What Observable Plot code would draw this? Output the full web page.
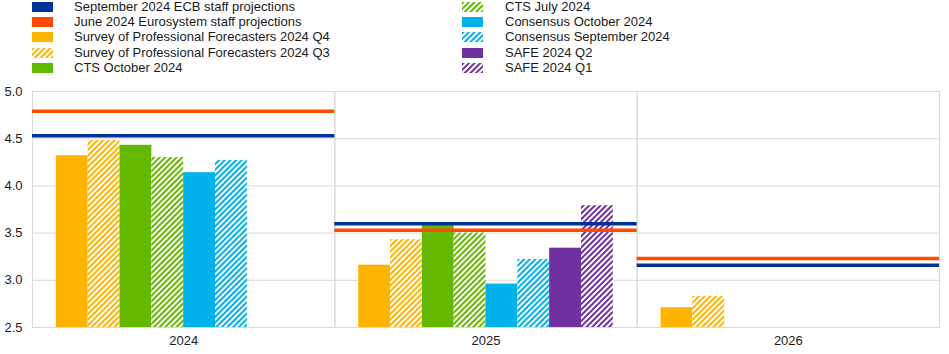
<!DOCTYPE html>
<html><head><meta charset="utf-8">
<script src="https://cdn.jsdelivr.net/npm/d3@7"></script>
<script src="https://cdn.jsdelivr.net/npm/@observablehq/plot@0.6"></script>
<style>
body{margin:0;background:#fff;font-family:Arial,"Liberation Sans",sans-serif;}
#legend{position:relative;height:78px;width:949px;}
.item{position:absolute;height:14px;font-size:13px;color:#1a1a1a;white-space:nowrap;}
.item svg{position:absolute;left:0;top:2px;}
.item span{position:absolute;top:-1px;line-height:15px;}
</style>
</head><body>
<svg width="0" height="0" style="position:absolute">
<defs id="defs"></defs>
</svg>
<div id="legend"></div>
<div id="chart"></div>
<script>
const years = ["2024", "2025", "2026"];
const barSeries = [
  "Survey of Professional Forecasters 2024 Q4",
  "Survey of Professional Forecasters 2024 Q3",
  "CTS October 2024",
  "CTS July 2024",
  "Consensus October 2024",
  "Consensus September 2024",
  "SAFE 2024 Q2",
  "SAFE 2024 Q1"
];
const spfQ4 = [4.32, 3.16, 2.71];
const spfQ3 = [4.48, 3.43, 2.83];
const ctsOct = [4.43, 3.60, null];
const ctsJul = [4.30, 3.50, null];
const consOct = [4.14, 2.96, null];
const consSep = [4.27, 3.22, null];
const safeQ2 = [null, 3.34, null];
const safeQ1 = [null, 3.79, null];
const lineSeries = ["September 2024 ECB staff projections", "June 2024 Eurosystem staff projections"];
const projSep = [4.53, 3.60, 3.16];
const projJun = [4.79, 3.53, 3.23];
const yTicks = [2.5, 3.0, 3.5, 4.0, 4.5, 5.0];

const barValues = [spfQ4, spfQ3, ctsOct, ctsJul, consOct, consSep, safeQ2, safeQ1];
const lineValues = [projSep, projJun];

const palette = {yellow: "#ffb400", green: "#65b800", cyan: "#00b1ea", purple: "#7030a0", blue: "#003299", orange: "#ff4b00"};
const barColor = ["yellow", "yellow", "green", "green", "cyan", "cyan", "purple", "purple"];
const barHatched = [false, true, false, true, false, true, false, true];
const lineColor = ["blue", "orange"];

// hatch patterns
const defs = document.getElementById("defs");
for (const [name, c] of Object.entries(palette)) {
  defs.insertAdjacentHTML("beforeend",
    `<pattern id="h-${name}" patternUnits="userSpaceOnUse" width="4" height="4" patternTransform="rotate(45)">
       <rect width="4" height="4" fill="#fff"/><rect width="2" height="4" fill="${c}"/></pattern>`);
}
const fillOf = i => barHatched[i] ? `url(#h-${barColor[i]})` : palette[barColor[i]];

// data tables
const bars = [];
barSeries.forEach((s, i) => years.forEach((y, j) => {
  if (barValues[i][j] != null) bars.push({series: s, year: y, value: barValues[i][j], fill: fillOf(i)});
}));
const lines = [];
lineSeries.forEach((s, i) => years.forEach((y, j) => {
  lines.push({series: s, year: y, value: lineValues[i][j], stroke: palette[lineColor[i]]});
}));

// legend
const legend = document.getElementById("legend");
const legendItems = [
  ...lineSeries.map((s, i) => ({label: s, fill: palette[lineColor[i]]})),
  ...barSeries.map((s, i) => ({label: s, fill: fillOf(i)}))
];
legendItems.forEach((it, k) => {
  const col = k < 5 ? 0 : 1;
  const row = k % 5;
  const sx = col === 0 ? 32 : 462;
  const tx = col === 0 ? 74 : 505;
  const top = row * 15.2;
  const d = document.createElement("div");
  d.className = "item";
  d.style.left = sx + "px";
  d.style.top = top + "px";
  d.innerHTML = `<svg width="21" height="10"><rect width="21" height="10" fill="${it.fill}"/></svg><span style="left:${tx - sx}px">${it.label}</span>`;
  legend.appendChild(d);
});

const chart = Plot.plot({
  width: 949,
  height: 276,
  marginTop: 13,
  marginBottom: 27,
  marginLeft: 32,
  marginRight: 10,
  style: {fontFamily: "Arial, 'Liberation Sans', sans-serif", fontSize: "13px", color: "#1a1a1a", background: "#fff"},
  fx: {domain: years, padding: 0, round: false, label: null, tickSize: 0, tickPadding: 8},
  x: {domain: barSeries, axis: null, round: false, paddingInner: 0, paddingOuter: 0.75},
  y: {domain: [2.5, 5.0], ticks: yTicks, tickFormat: d3.format(".1f"), tickSize: 0, tickPadding: 10, label: null},
  color: {type: "identity"},
  marks: [
    Plot.ruleY(yTicks, {stroke: "#d9d9d9", strokeWidth: 1}),
    Plot.frame({stroke: "#d9d9d9"}),
    Plot.barY(bars, {fx: "year", x: "series", y1: 2.5, y2: "value", fill: "fill", inset: 0}),
    Plot.ruleY(lines, {fx: "year", y: "value", stroke: "stroke", strokeWidth: 3.5})
  ]
});
document.getElementById("chart").appendChild(chart);
</script>
</body></html>
